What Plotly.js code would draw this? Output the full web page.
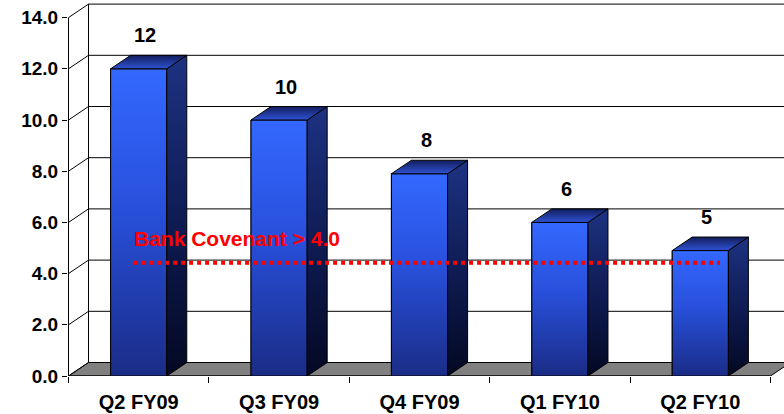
<!DOCTYPE html>
<html><head><meta charset="utf-8">
<script src="https://cdn.plot.ly/plotly-3.0.1.min.js"></script>
<style>html,body{margin:0;padding:0;background:#fff}</style>
</head><body><div id="chart" style="width:784px;height:414px"></div>
<script>
// ---- data ----
const categories = ['Q2 FY09', 'Q3 FY09', 'Q4 FY09', 'Q1 FY10', 'Q2 FY10'];
const values = [12, 10, 7.9, 6, 4.9];
const valueLabels = ['12', '10', '8', '6', '5'];
const yTickValues = [0, 2, 4, 6, 8, 10, 12, 14];
const yTickLabels = ['0.0', '2.0', '4.0', '6.0', '8.0', '10.0', '12.0', '14.0'];
const covenant = 4.0;
const covenantText = 'Bank Covenant > 4.0';

// ---- geometry / style ----
const W = 784, H = 414, ML = 68, MB = 38;
const PXU = 140.4;            // px per category
const PYU = 25.6;             // px per y unit
const plotW = W - ML, plotH = H - MB;
const xStart = -0.5 - 0.5 / PXU;
const xRange = [xStart, xStart + plotW / PXU];
const yRange = [0, plotH / PYU];
const DX = 20 / PXU, DY = 13.5 / PYU;   // 3D depth offsets
const BW = 0.4;
const nCat = categories.length;
const xLeft = -0.5, xRight = nCat - 0.5;
const FONT = 'Arial, "Liberation Sans", sans-serif';
const yMax = yTickValues[yTickValues.length - 1];

const traces = [];
// front faces as real bars
traces.push({
  type: 'bar', x: categories.map((c, i) => i), y: values, width: BW,
  marker: {color: '#2a4bd6', line: {color: '#000', width: 1}},
  hoverinfo: 'skip', showlegend: false
});
values.forEach((v, i) => {
  const x0 = i - BW / 2, x1 = i + BW / 2;
  // front gradient overlay
  traces.push({
    type: 'scatter', mode: 'lines', fill: 'toself',
    x: [x0, x1, x1, x0, x0], y: [0, 0, v, v, 0],
    line: {color: '#000', width: 1},
    fillgradient: {type: 'vertical', colorscale: [[0, '#1a2c86'], [0.55, '#2850dc'], [1, '#3468ff']]},
    hoverinfo: 'skip', showlegend: false
  });
  // side face
  traces.push({
    type: 'scatter', mode: 'lines', fill: 'toself',
    x: [x1, x1 + DX, x1 + DX, x1, x1], y: [0, DY, v + DY, v, 0],
    line: {color: '#000', width: 1},
    fillgradient: {type: 'vertical', colorscale: [[0, '#030822'], [0.5, '#0f1c55'], [1, '#1d3282']]},
    hoverinfo: 'skip', showlegend: false
  });
  // top face
  traces.push({
    type: 'scatter', mode: 'lines', fill: 'toself',
    x: [x0, x1, x1 + DX, x0 + DX, x0], y: [v, v, v + DY, v + DY, v],
    line: {color: '#000', width: 1},
    fillgradient: {type: 'vertical', colorscale: [[0, '#2f52d4'], [1, '#121d5c']]},
    hoverinfo: 'skip', showlegend: false
  });
});
// covenant line
const covLevel = covenant + 0.42;
traces.push({
  type: 'scatter', mode: 'lines',
  x: [-0.04, nCat - 1 + 0.14], y: [covLevel, covLevel],
  line: {color: '#ff0000', width: 4, dash: 'dot'},
  hoverinfo: 'skip', showlegend: false
});

// ---- walls, floor, grid (chart furniture) ----
const shapes = [];
const L = (x0, y0, x1, y1) => ({type: 'line', xref: 'x', yref: 'y', x0, y0, x1, y1,
  line: {color: '#000', width: 1}, layer: 'below'});
// floor
shapes.push({type: 'path', xref: 'x', yref: 'y', layer: 'below',
  path: `M ${xLeft},0 L ${xRight},0 L ${xRight + DX},${DY} L ${xLeft + DX},${DY} Z`,
  fillcolor: '#808080', line: {color: '#000', width: 1}});
yTickValues.forEach(v => {
  shapes.push(L(xLeft + DX, v + DY, xRight + DX + 1, v + DY));   // back wall gridline
  shapes.push(L(xLeft, v, xLeft + DX, v + DY));                  // side wall diagonal
});
shapes.push(L(xLeft + DX, DY, xLeft + DX, yMax + DY));          // back-left edge
shapes.push(L(xLeft, 0, xLeft, yMax));                          // front axis line
shapes.push(L(xLeft, 0, xRight, 0));                            // front floor edge

// ---- annotations ----
const annotations = values.map((v, i) => ({
  x: i + 0.047, y: v + DY, yshift: 20, text: valueLabels[i], showarrow: false,
  xref: 'x', yref: 'y', yanchor: 'middle', xanchor: 'center',
  font: {family: FONT, size: 20, color: '#000', weight: 'bold'}
}));
annotations.push({
  x: -0.045, y: covLevel, yshift: 24, text: covenantText, showarrow: false,
  xref: 'x', yref: 'y', xanchor: 'left', yanchor: 'middle',
  font: {family: FONT, size: 21, color: '#ff0000', weight: 'bold'}
});

const layout = {
  width: W, height: H,
  margin: {l: ML, r: 0, t: 0, b: MB, pad: 0},
  paper_bgcolor: '#fff', plot_bgcolor: 'rgba(0,0,0,0)',
  showlegend: false,
  xaxis: {
    range: xRange, tickmode: 'array', tickvals: categories.map((c, i) => i), ticktext: categories,
    ticks: '', showgrid: false, zeroline: false, showline: false, fixedrange: true,
    ticklabelstandoff: 12,
    tickfont: {family: FONT, size: 20, color: '#000', weight: 'bold'},
    minor: {tickmode: 'array', tickvals: categories.map((c, i) => i - 0.5).concat([nCat - 0.5]),
            ticks: 'outside', ticklen: 6, tickcolor: '#000', tickwidth: 1, showgrid: false}
  },
  yaxis: {
    range: yRange, tickmode: 'array', tickvals: yTickValues, ticktext: yTickLabels,
    ticks: 'outside', ticklen: 5, tickcolor: '#000', tickwidth: 1,
    showgrid: false, zeroline: false, showline: false, fixedrange: true,
    tickfont: {family: FONT, size: 19, color: '#000', weight: 'bold'}
  },
  shapes, annotations
};
Plotly.newPlot('chart', traces, layout, {displayModeBar: false, staticPlot: true});
</script></body></html>
